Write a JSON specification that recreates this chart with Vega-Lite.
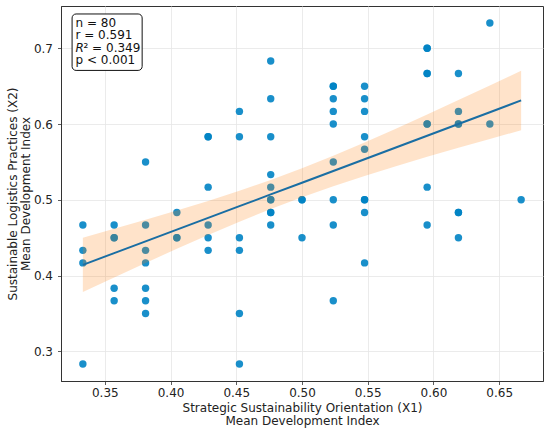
{
  "$schema": "https://vega.github.io/schema/vega-lite/v6.json",
  "width": 482,
  "height": 375,
  "autosize": {"type": "none"},
  "padding": {"left": 61, "top": 6, "right": 7, "bottom": 54},
  "background": "white",
  "config": {
    "font": "DejaVu Sans",
    "view": {"stroke": "#333333", "strokeWidth": 1},
    "axis": {
      "domainColor": "#333333",
      "domainWidth": 1,
      "tickColor": "#333333",
      "tickSize": 3.5,
      "tickWidth": 0.8,
      "gridColor": "#e6e6e6",
      "gridWidth": 0.8,
      "labelFont": "DejaVu Sans",
      "labelFontSize": 12,
      "labelColor": "#222222",
      "titleFont": "DejaVu Sans",
      "titleFontSize": 12,
      "titleFontWeight": "normal",
      "titleColor": "#222222",
      "titleLineHeight": 13
    }
  },
  "datasets": {
    "points": [
      {"x1": 0.3333, "x2": 0.4667}, {"x1": 0.3333, "x2": 0.4333}, {"x1": 0.3333, "x2": 0.4167}, {"x1": 0.3333, "x2": 0.2833},
      {"x1": 0.3571, "x2": 0.4667}, {"x1": 0.3571, "x2": 0.45}, {"x1": 0.3571, "x2": 0.45}, {"x1": 0.3571, "x2": 0.3833}, {"x1": 0.3571, "x2": 0.3667},
      {"x1": 0.381, "x2": 0.55}, {"x1": 0.381, "x2": 0.4667}, {"x1": 0.381, "x2": 0.4333}, {"x1": 0.381, "x2": 0.4167}, {"x1": 0.381, "x2": 0.3833}, {"x1": 0.381, "x2": 0.3667}, {"x1": 0.381, "x2": 0.35},
      {"x1": 0.4048, "x2": 0.4833}, {"x1": 0.4048, "x2": 0.45}, {"x1": 0.4048, "x2": 0.45},
      {"x1": 0.4286, "x2": 0.5833}, {"x1": 0.4286, "x2": 0.5833}, {"x1": 0.4286, "x2": 0.5167}, {"x1": 0.4286, "x2": 0.4667}, {"x1": 0.4286, "x2": 0.45}, {"x1": 0.4286, "x2": 0.4333},
      {"x1": 0.4524, "x2": 0.6167}, {"x1": 0.4524, "x2": 0.5833}, {"x1": 0.4524, "x2": 0.45}, {"x1": 0.4524, "x2": 0.4333}, {"x1": 0.4524, "x2": 0.35}, {"x1": 0.4524, "x2": 0.2833},
      {"x1": 0.4762, "x2": 0.6833}, {"x1": 0.4762, "x2": 0.6333}, {"x1": 0.4762, "x2": 0.5833}, {"x1": 0.4762, "x2": 0.5333}, {"x1": 0.4762, "x2": 0.5167}, {"x1": 0.4762, "x2": 0.5}, {"x1": 0.4762, "x2": 0.5}, {"x1": 0.4762, "x2": 0.4833}, {"x1": 0.4762, "x2": 0.4833}, {"x1": 0.4762, "x2": 0.4667},
      {"x1": 0.5, "x2": 0.5}, {"x1": 0.5, "x2": 0.5}, {"x1": 0.5, "x2": 0.45},
      {"x1": 0.5238, "x2": 0.65}, {"x1": 0.5238, "x2": 0.65}, {"x1": 0.5238, "x2": 0.6333}, {"x1": 0.5238, "x2": 0.6167}, {"x1": 0.5238, "x2": 0.6}, {"x1": 0.5238, "x2": 0.55}, {"x1": 0.5238, "x2": 0.5}, {"x1": 0.5238, "x2": 0.4667}, {"x1": 0.5238, "x2": 0.3667},
      {"x1": 0.5476, "x2": 0.65}, {"x1": 0.5476, "x2": 0.6333}, {"x1": 0.5476, "x2": 0.6167}, {"x1": 0.5476, "x2": 0.5833}, {"x1": 0.5476, "x2": 0.5667}, {"x1": 0.5476, "x2": 0.5}, {"x1": 0.5476, "x2": 0.5}, {"x1": 0.5476, "x2": 0.4833}, {"x1": 0.5476, "x2": 0.4167},
      {"x1": 0.5952, "x2": 0.7}, {"x1": 0.5952, "x2": 0.7}, {"x1": 0.5952, "x2": 0.6667}, {"x1": 0.5952, "x2": 0.6667}, {"x1": 0.5952, "x2": 0.6}, {"x1": 0.5952, "x2": 0.6}, {"x1": 0.5952, "x2": 0.5167}, {"x1": 0.5952, "x2": 0.4667},
      {"x1": 0.619, "x2": 0.6667}, {"x1": 0.619, "x2": 0.6167}, {"x1": 0.619, "x2": 0.6}, {"x1": 0.619, "x2": 0.6}, {"x1": 0.619, "x2": 0.4833}, {"x1": 0.619, "x2": 0.4833}, {"x1": 0.619, "x2": 0.45},
      {"x1": 0.6429, "x2": 0.7333}, {"x1": 0.6429, "x2": 0.6},
      {"x1": 0.6667, "x2": 0.5}
    ],
    "fit": [
      {"x1": 0.3333, "fit": 0.4141, "lo": 0.3782, "hi": 0.45},
      {"x1": 0.3571, "fit": 0.4296, "lo": 0.3975, "hi": 0.4617},
      {"x1": 0.381, "fit": 0.4451, "lo": 0.4166, "hi": 0.4736},
      {"x1": 0.4048, "fit": 0.4606, "lo": 0.4354, "hi": 0.4858},
      {"x1": 0.4286, "fit": 0.4761, "lo": 0.4537, "hi": 0.4985},
      {"x1": 0.4524, "fit": 0.4916, "lo": 0.4712, "hi": 0.512},
      {"x1": 0.4762, "fit": 0.5071, "lo": 0.4879, "hi": 0.5263},
      {"x1": 0.5, "fit": 0.5226, "lo": 0.5035, "hi": 0.5417},
      {"x1": 0.5238, "fit": 0.5381, "lo": 0.518, "hi": 0.5582},
      {"x1": 0.5476, "fit": 0.5536, "lo": 0.5315, "hi": 0.5757},
      {"x1": 0.5714, "fit": 0.5691, "lo": 0.5444, "hi": 0.5938},
      {"x1": 0.5952, "fit": 0.5846, "lo": 0.5567, "hi": 0.6125},
      {"x1": 0.619, "fit": 0.6001, "lo": 0.5686, "hi": 0.6316},
      {"x1": 0.6429, "fit": 0.6156, "lo": 0.5803, "hi": 0.6509},
      {"x1": 0.6667, "fit": 0.6312, "lo": 0.5919, "hi": 0.6705}
    ],
    "box": [
      {"left": 0.3251, "right": 0.3784, "top": 0.7453, "bottom": 0.6708}
    ],
    "stats": [
      {"x1": 0.3277, "x2": 0.7334, "label": "n = 80"},
      {"x1": 0.3277, "x2": 0.7169, "label": "r = 0.591"},
      {"x1": 0.3277, "x2": 0.6839, "label": "p < 0.001"}
    ],
    "rsq": [
      {"x1": 0.3277, "x2": 0.7004, "sym": "R", "rest": "² = 0.349"}
    ]
  },
  "layer": [
    {
      "data": {"name": "points"},
      "mark": {"type": "circle", "size": 55, "color": "#0083c4", "opacity": 0.9},
      "encoding": {
        "x": {
          "field": "x1",
          "type": "quantitative",
          "scale": {"domain": [0.31667, 0.68333], "nice": false, "zero": false},
          "axis": {
            "values": [0.35, 0.4, 0.45, 0.5, 0.55, 0.6, 0.65],
            "format": ".2f",
            "labelPadding": 3,
            "titlePadding": 4,
            "title": ["Strategic Sustainability Orientation (X1)", "Mean Development Index"]
          }
        },
        "y": {
          "field": "x2",
          "type": "quantitative",
          "scale": {"domain": [0.26083, 0.75583], "nice": false, "zero": false},
          "axis": {
            "values": [0.3, 0.4, 0.5, 0.6, 0.7],
            "format": ".1f",
            "labelPadding": 5,
            "titlePadding": 1,
            "title": ["Sustainable Logistics Practices (X2)", "Mean Development Index"]
          }
        }
      }
    },
    {
      "data": {"name": "fit"},
      "mark": {"type": "area", "color": "#ff7f0e", "opacity": 0.22},
      "encoding": {
        "x": {"field": "x1", "type": "quantitative"},
        "y": {"field": "lo", "type": "quantitative"},
        "y2": {"field": "hi"}
      }
    },
    {
      "data": {"name": "fit"},
      "mark": {"type": "line", "color": "#1a6ea3", "strokeWidth": 2},
      "encoding": {
        "x": {"field": "x1", "type": "quantitative"},
        "y": {"field": "fit", "type": "quantitative"}
      }
    },
    {
      "data": {"name": "box"},
      "mark": {"type": "rect", "fill": "white", "stroke": "#111111", "strokeWidth": 1, "cornerRadius": 4},
      "encoding": {
        "x": {"field": "left", "type": "quantitative"},
        "x2": {"field": "right"},
        "y": {"field": "top", "type": "quantitative"},
        "y2": {"field": "bottom"}
      }
    },
    {
      "data": {"name": "stats"},
      "mark": {"type": "text", "align": "left", "baseline": "middle", "fontSize": 12, "font": "DejaVu Sans", "color": "#111111"},
      "encoding": {
        "x": {"field": "x1", "type": "quantitative"},
        "y": {"field": "x2", "type": "quantitative"},
        "text": {"field": "label"}
      }
    },
    {
      "data": {"name": "rsq"},
      "mark": {"type": "text", "align": "left", "baseline": "middle", "fontSize": 12, "font": "DejaVu Sans", "fontStyle": "italic", "color": "#111111"},
      "encoding": {
        "x": {"field": "x1", "type": "quantitative"},
        "y": {"field": "x2", "type": "quantitative"},
        "text": {"field": "sym"}
      }
    },
    {
      "data": {"name": "rsq"},
      "mark": {"type": "text", "align": "left", "baseline": "middle", "dx": 8, "fontSize": 12, "font": "DejaVu Sans", "color": "#111111"},
      "encoding": {
        "x": {"field": "x1", "type": "quantitative"},
        "y": {"field": "x2", "type": "quantitative"},
        "text": {"field": "rest"}
      }
    }
  ]
}
